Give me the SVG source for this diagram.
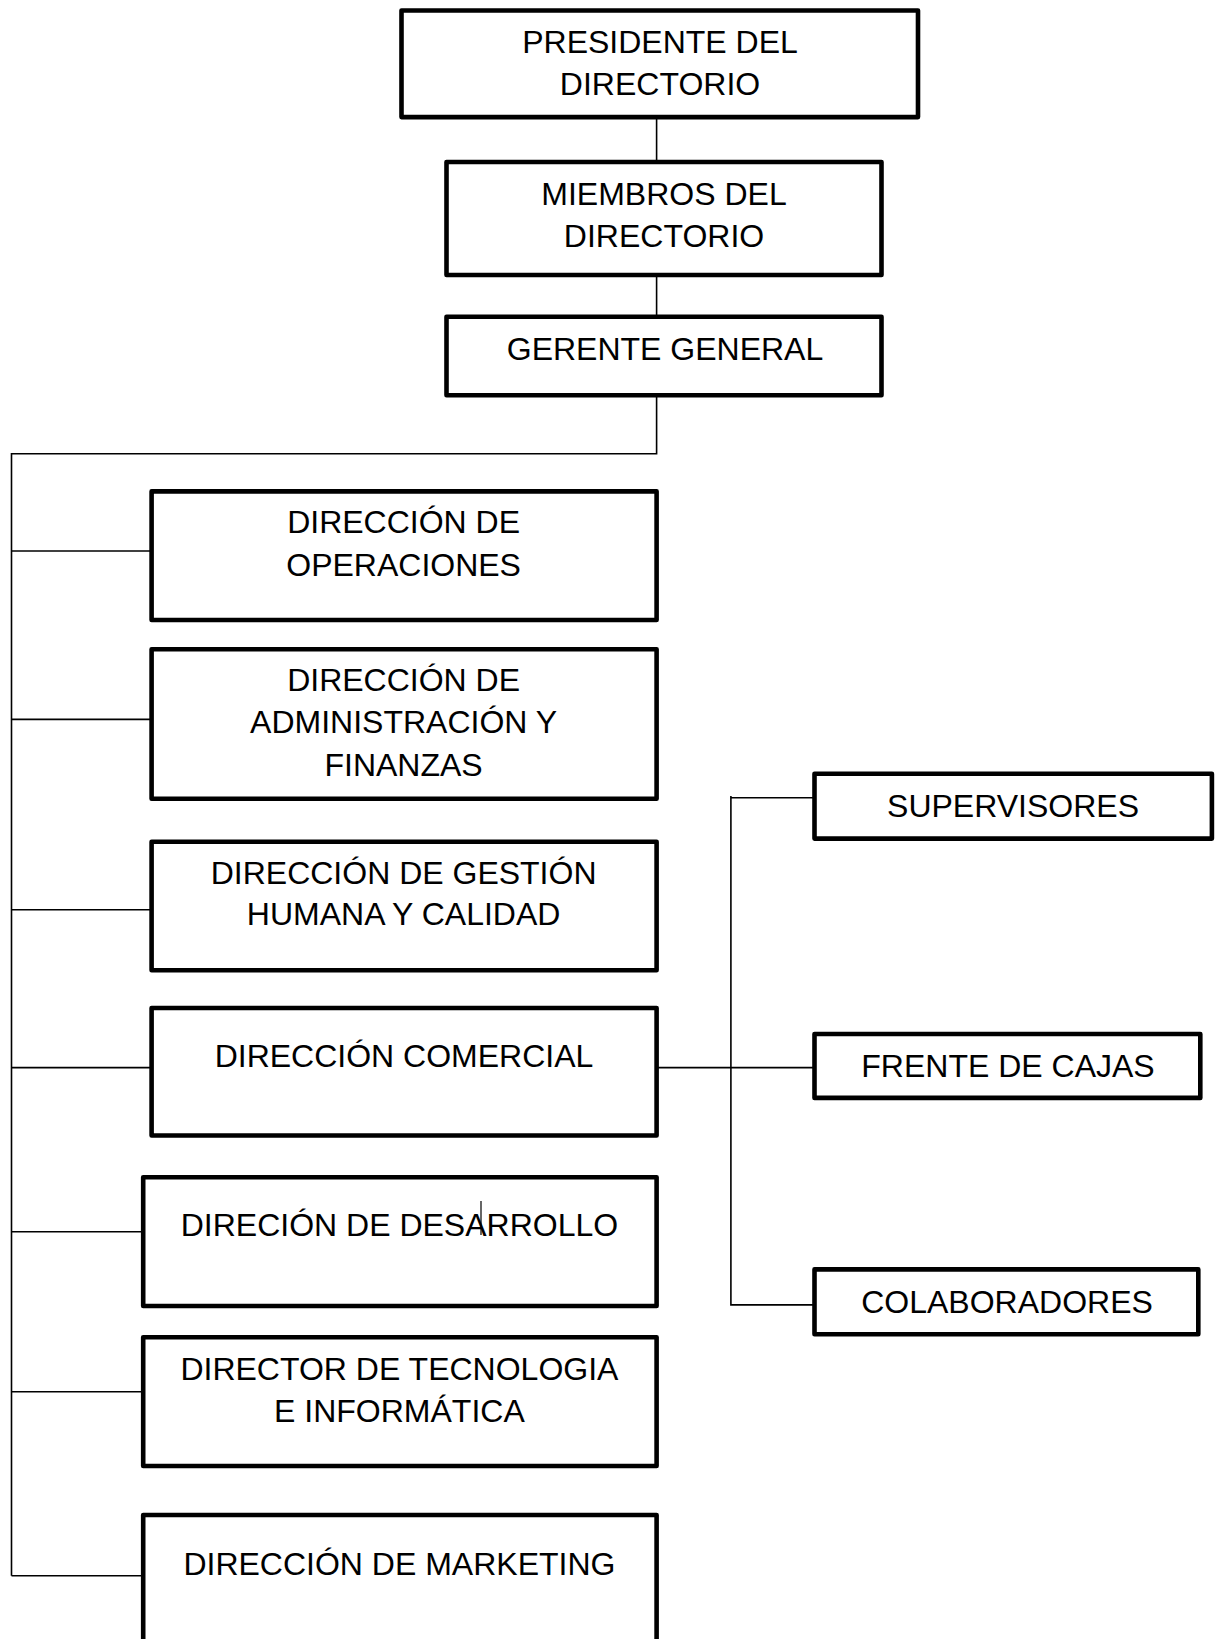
<svg xmlns="http://www.w3.org/2000/svg" width="1216" height="1639" viewBox="0 0 1216 1639">
<style>
.box{fill:#fff;stroke:#000;stroke-width:4.6;stroke-linejoin:round}
.lbl{font-family:"Liberation Sans",Arial,sans-serif;font-size:32px;fill:#000;text-anchor:middle}
.con{fill:none;stroke:#000;stroke-width:1.6}
</style>
<rect width="1216" height="1639" fill="#fff"/>
<g id="connectors">
<path class="con" d="M656.6 117 V162"/>
<path class="con" d="M656.6 275 V317"/>
<path class="con" d="M656.6 395 V453.8 H11.5 V1575.7"/>
<path class="con" d="M11.5 551 H151.6"/>
<path class="con" d="M11.5 719.4 H151.6"/>
<path class="con" d="M11.5 909.7 H151.6"/>
<path class="con" d="M11.5 1067.6 H151.6"/>
<path class="con" d="M11.5 1231.7 H143.2"/>
<path class="con" d="M11.5 1391.7 H143.2"/>
<path class="con" d="M11.5 1575.7 H143.2"/>
<path class="con" d="M656.6 1067.6 H814.5"/>
<path class="con" d="M730.9 796 V1304.9 H814.5"/>
<path class="con" d="M730.9 797.8 H814.5"/>
</g>
<g transform="translate(0,-1.2)">
<g id="presidente"><rect class="box" x="401.5" y="11.7" width="516.5" height="106.6"/><text class="lbl" x="660" y="54.4">PRESIDENTE DEL</text><text class="lbl" x="660" y="96.2">DIRECTORIO</text></g>
</g>
<g id="miembros"><rect class="box" x="446.5" y="162" width="435" height="113"/><text class="lbl" x="664" y="204.8">MIEMBROS DEL</text><text class="lbl" x="664" y="246.6">DIRECTORIO</text></g>
<g id="gerente"><rect class="box" x="446.5" y="316.8" width="435" height="78.4"/><text class="lbl" x="665" y="359.5">GERENTE GENERAL</text></g>
<g id="operaciones"><rect class="box" x="151.6" y="491.4" width="505" height="128.6"/><text class="lbl" x="403.6" y="533.3">DIRECCIÓN DE</text><text class="lbl" x="403.6" y="576">OPERACIONES</text></g>
<g id="administracion"><rect class="box" x="151.6" y="649.3" width="505" height="149.5"/><text class="lbl" x="403.6" y="691">DIRECCIÓN DE</text><text class="lbl" x="403.6" y="733">ADMINISTRACIÓN Y</text><text class="lbl" x="403.6" y="776">FINANZAS</text></g>
<g id="gestion"><rect class="box" x="151.6" y="841.7" width="505" height="128.6"/><text class="lbl" x="403.6" y="883.6">DIRECCIÓN DE GESTIÓN</text><text class="lbl" x="403.6" y="925.4">HUMANA Y CALIDAD</text></g>
<g id="comercial"><rect class="box" x="151.6" y="1008" width="505" height="127.5"/><text class="lbl" x="404" y="1067.4">DIRECCIÓN COMERCIAL</text></g>
<g id="desarrollo"><rect class="box" x="143.2" y="1177.3" width="513.4" height="128.7"/><text class="lbl" x="399.4" y="1236">DIRECIÓN DE DESARROLLO</text><line x1="481" y1="1201" x2="481" y2="1235" stroke="#000" stroke-width="1.2"/></g>
<g id="tecnologia"><rect class="box" x="143.2" y="1337.3" width="513.4" height="128.7"/><text class="lbl" x="399.4" y="1380">DIRECTOR DE TECNOLOGIA</text><text class="lbl" x="399.4" y="1422">E INFORMÁTICA</text></g>
<g id="marketing"><rect class="box" x="143.2" y="1515" width="513.4" height="160"/><text class="lbl" x="399.4" y="1574.5">DIRECCIÓN DE MARKETING</text></g>
<g id="supervisores"><rect class="box" x="814.5" y="773.7" width="397.4" height="64.9"/><text class="lbl" x="1013" y="816.5">SUPERVISORES</text></g>
<g id="frente"><rect class="box" x="814.5" y="1034" width="385.8" height="63.9"/><text class="lbl" x="1008" y="1076.8">FRENTE DE CAJAS</text></g>
<g id="colaboradores"><rect class="box" x="814.5" y="1269.4" width="383.8" height="64.8"/><text class="lbl" x="1007" y="1312.8">COLABORADORES</text></g>
</svg>
